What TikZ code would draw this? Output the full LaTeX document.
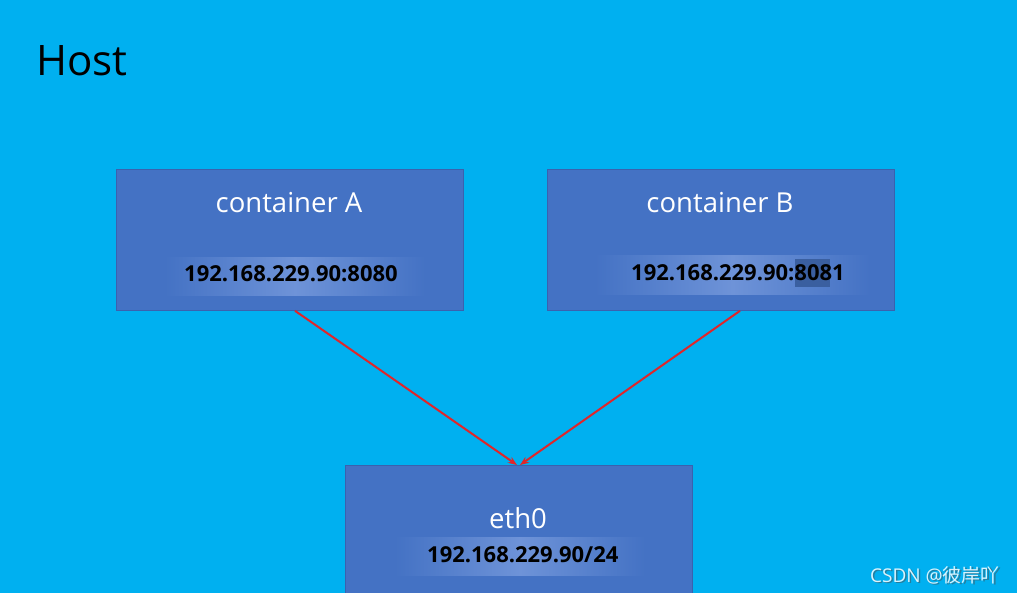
\documentclass[tikz,border=0pt]{standalone}
\usepackage{fontspec}
\setmainfont{Open Sans}
\newfontfamily\cjkfont{Noto Sans CJK SC}
\usetikzlibrary{arrows.meta,calc}
\definecolor{hostbg}{HTML}{00B0F0}
\definecolor{boxfill}{HTML}{4472C4}
\definecolor{boxline}{HTML}{3A62AE}
\definecolor{bandc}{HTML}{6E93D8}
\definecolor{arrowred}{HTML}{E0262A}
\definecolor{markc}{HTML}{3A5FA0}
\tikzset{
  boxnode/.style={draw=boxline, line width=0.8pt, fill=boxfill, minimum width=347pt, anchor=north west, inner sep=0pt},
  titletext/.style={text=white, font=\fontsize{27.5}{32}\selectfont},
  iptext/.style={text=black, font=\bfseries\fontsize{22}{26}\selectfont, inner sep=0pt},
  link/.style={draw=arrowred, line width=2pt, -{Stealth[length=9pt,width=7pt]}},
  band/.style={left color=boxfill, right color=boxfill, middle color=bandc},
}
\begin{document}
\begin{tikzpicture}[x=1pt,y=-1pt]
\useasboundingbox (0,0) rectangle (1017,593);
\clip (0,0) rectangle (1017,593);
\fill[hostbg] (0,0) rectangle (1017,593);
\node[anchor=base west, font=\fontsize{42}{48}\selectfont, inner sep=0pt] (host) at (36,76) {Host};

% boxes
\node[boxnode, minimum height=141pt] (A) at (116,169) {};
\node[boxnode, minimum height=141pt] (B) at (547,169) {};
\node[boxnode, minimum height=150pt] (E) at (345,465) {};

% bands
\shade[band] (165,258) rectangle (425,296);
\shade[band] (595,256) rectangle (870,295);
\shade[band] (395,537) rectangle (645,575);
\fill[markc] (795,259) rectangle (830,287);

% texts
\node[titletext] (At) at (289,203) {container A};
\node[titletext] (Bt) at (720,203) {container B};
\node[titletext] (Et) at (518,518) {eth0};
\node[iptext, anchor=base west] (Aip) at (184,282) {192.168.229.90:8080};
\node[iptext, anchor=base west] (Bip) at (631,281) {192.168.229.90:8081};
\node[iptext, anchor=base west] (Eip) at (427,562) {192.168.229.90/24};

% connectors
\coordinate (Aout) at ($(A.south west)+(179,0)$);
\coordinate (Bout) at ($(B.south west)+(193,0)$);
\coordinate (Ein1) at ($(E.north west)+(172,0)$);
\coordinate (Ein2) at ($(E.north west)+(175,0)$);
\draw[link] (Aout) -- (Ein1);
\draw[link] (Bout) -- (Ein2);

% watermark
\node[anchor=base west, inner sep=0pt, text=black!70, opacity=0.5, font=\fontsize{19}{22}\selectfont] (wms) at (871.5,583.5) {CSDN @{\cjkfont 彼岸吖}};
\node[anchor=base west, inner sep=0pt, text=white!85!hostbg, font=\fontsize{19}{22}\selectfont] (wm) at (870,582) {CSDN @{\cjkfont 彼岸吖}};
\end{tikzpicture}
\end{document}
